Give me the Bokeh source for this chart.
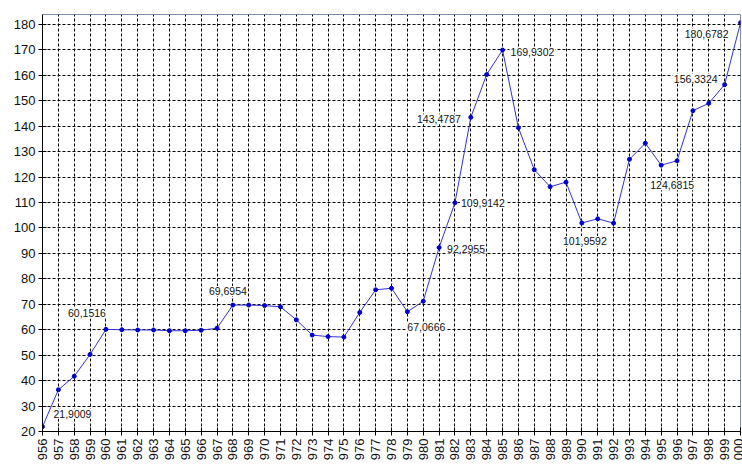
from bokeh.plotting import figure
from bokeh.models import ColumnDataSource, FixedTicker, Range1d
from bokeh.embed import file_html
from bokeh.resources import INLINE
from bokeh.core.properties import value
import math

years = [1956, 1957, 1958, 1959, 1960, 1961, 1962, 1963, 1964, 1965, 1966, 1967,
         1968, 1969, 1970, 1971, 1972, 1973, 1974, 1975, 1976, 1977, 1978, 1979,
         1980, 1981, 1982, 1983, 1984, 1985, 1986, 1987, 1988, 1989, 1990, 1991,
         1992, 1993, 1994, 1995, 1996, 1997, 1998, 1999, 2000]
values = [21.9009, 36.4, 41.7, 50.3, 60.1516, 60.0, 59.9, 59.9, 59.6, 59.6, 59.8, 60.6,
          69.6954, 69.7, 69.5, 69.0, 63.9, 57.9, 57.3, 57.1, 66.8, 75.7, 76.3, 67.0666,
          71.2, 92.2955, 109.9142, 143.4787, 160.3, 169.9302, 139.4, 122.9, 116.2, 118.0, 101.9592, 103.6,
          101.9, 127.0, 133.3, 124.6815, 126.4, 146.1, 149.0, 156.3324, 180.6782]
tick_labels = ["956", "957", "958", "959", "960", "961", "962", "963", "964", "965", "966", "967",
               "968", "969", "970", "971", "972", "973", "974", "975", "976", "977", "978", "979",
               "980", "981", "982", "983", "984", "985", "986", "987", "988", "989", "990", "991",
               "992", "993", "994", "995", "996", "997", "998", "999", "000"]
y_ticks = [20, 30, 40, 50, 60, 70, 80, 90, 100, 110, 120, 130, 140, 150, 160, 170, 180]

label_years = [1956, 1960, 1968, 1979, 1981, 1982, 1983, 1985, 1990, 1995, 1999, 2000]
label_texts = ["21,9009", "60,1516", "69,6954", "67,0666", "92,2955", "109,9142",
               "143,4787", "169,9302", "101,9592", "124,6815", "156,3324", "180,6782"]

# label placement (styles, screen px)
label_align = ["left", "right", "center", "left", "left", "left",
               "right", "left", "center", "center", "right", "right"]
label_dx = [10, 1, -5, -1, 7, 5, -9, 7, 3, 11, -6, -11]
label_dy = [-13, -16, -14, 15, 1, 0, 2, 2, 18, 20, -6, 11]

p = figure(width=742, height=465, output_backend="svg", toolbar_location=None,
           x_range=Range1d(1956, 2000), y_range=Range1d(20, 183.9),
           min_border_left=42, min_border_right=2, min_border_top=14, min_border_bottom=34)
p.background_fill_color = "white"
p.border_fill_color = "white"
p.outline_line_color = "#7d8fa8"
p.outline_line_width = 1

p.xaxis.ticker = FixedTicker(ticks=years)
p.xaxis.major_label_overrides = {y: t for y, t in zip(years, tick_labels)}
p.xaxis.major_label_orientation = math.pi / 2
p.yaxis.ticker = FixedTicker(ticks=y_ticks)
for ax in (p.xaxis, p.yaxis):
    ax.axis_line_color = "black"
    ax.axis_line_width = 1
    ax.major_tick_line_color = "black"
    ax.major_tick_in = 4
    ax.major_tick_out = 4
    ax.minor_tick_line_color = None
    ax.major_label_text_font = "Liberation Sans"
    ax.major_label_text_font_size = "13px"
    ax.major_label_text_color = "#111111"
    ax.major_label_standoff = 3

p.xgrid.grid_line_color = "black"
p.xgrid.grid_line_dash = "3 2"
p.xgrid.grid_line_width = 1
p.ygrid.grid_line_color = "black"
p.ygrid.grid_line_dash = "3 2"
p.ygrid.grid_line_width = 1

src = ColumnDataSource(dict(x=years, y=values))
p.line("x", "y", source=src, line_color="#3333cc", line_width=1)
p.scatter("x", "y", source=src, size=4, fill_color="#0000cc", line_color="#0000cc")

lab_vals = [values[years.index(y)] for y in label_years]
lsrc = ColumnDataSource(dict(x=label_years, y=lab_vals, text=label_texts,
                             align=label_align, dx=label_dx, dy=label_dy))
p.text("x", "y", text="text", source=lsrc, x_offset="dx", y_offset="dy",
       text_align="align", text_baseline="middle",
       text_font=value("Liberation Sans"), text_font_size="10.5px", text_color="#111111",
       background_fill_color="white", padding=1)

open("out.html", "w").write(file_html(p, INLINE))
